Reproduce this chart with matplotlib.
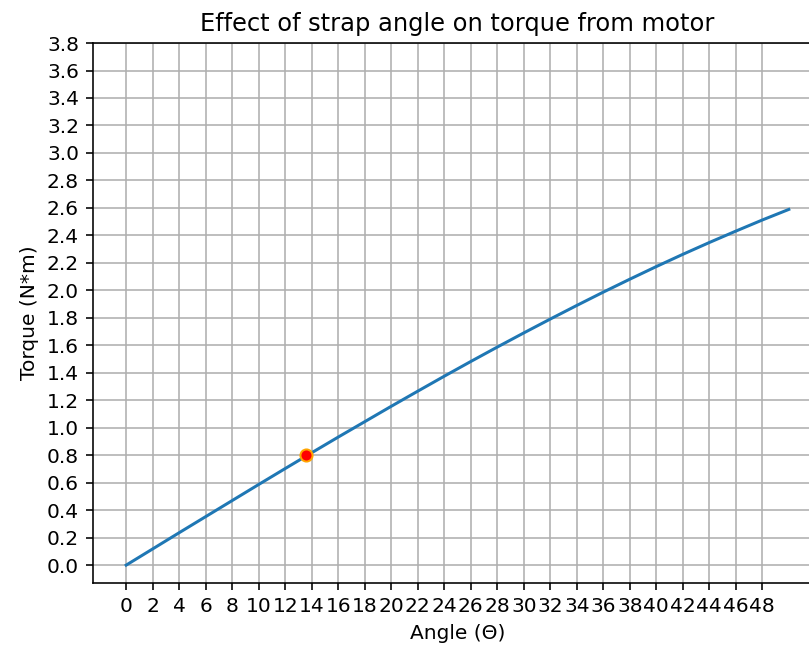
import numpy as np
import matplotlib
matplotlib.use("Agg")
import matplotlib.pyplot as plt

angles = [0, 2, 4, 6, 8, 10, 12, 14, 16, 18, 20, 22, 24, 26, 28, 30,
          32, 34, 36, 38, 40, 42, 44, 46, 48, 50]
torque = [0.0, 0.118, 0.236, 0.353, 0.470, 0.587, 0.703, 0.818, 0.932,
          1.044, 1.156, 1.266, 1.375, 1.482, 1.587, 1.690, 1.791, 1.890,
          1.987, 2.081, 2.173, 2.262, 2.348, 2.431, 2.512, 2.589]
point_angle = 13.6
point_torque = 0.80

dpi = 145
fig = plt.figure(figsize=(809 / dpi, 649 / dpi), dpi=dpi)
ax = fig.add_axes([0.115, 0.1017, 0.901, 0.832])
ax.plot(angles, torque)
ax.plot(point_angle, point_torque, 'o', color='red', markeredgecolor='orange')
ax.set_xticks(np.arange(0, 50, 2))
ax.set_yticks(np.round(np.arange(0, 3.81, 0.2), 1))
ax.set_ylim(-0.13, 3.8)
ax.grid(True)
ax.set_xlabel('Angle (Θ)')
ax.set_ylabel('Torque (N*m)')
ax.set_title('Effect of strap angle on torque from motor')
fig.savefig('out.png', dpi=dpi)
